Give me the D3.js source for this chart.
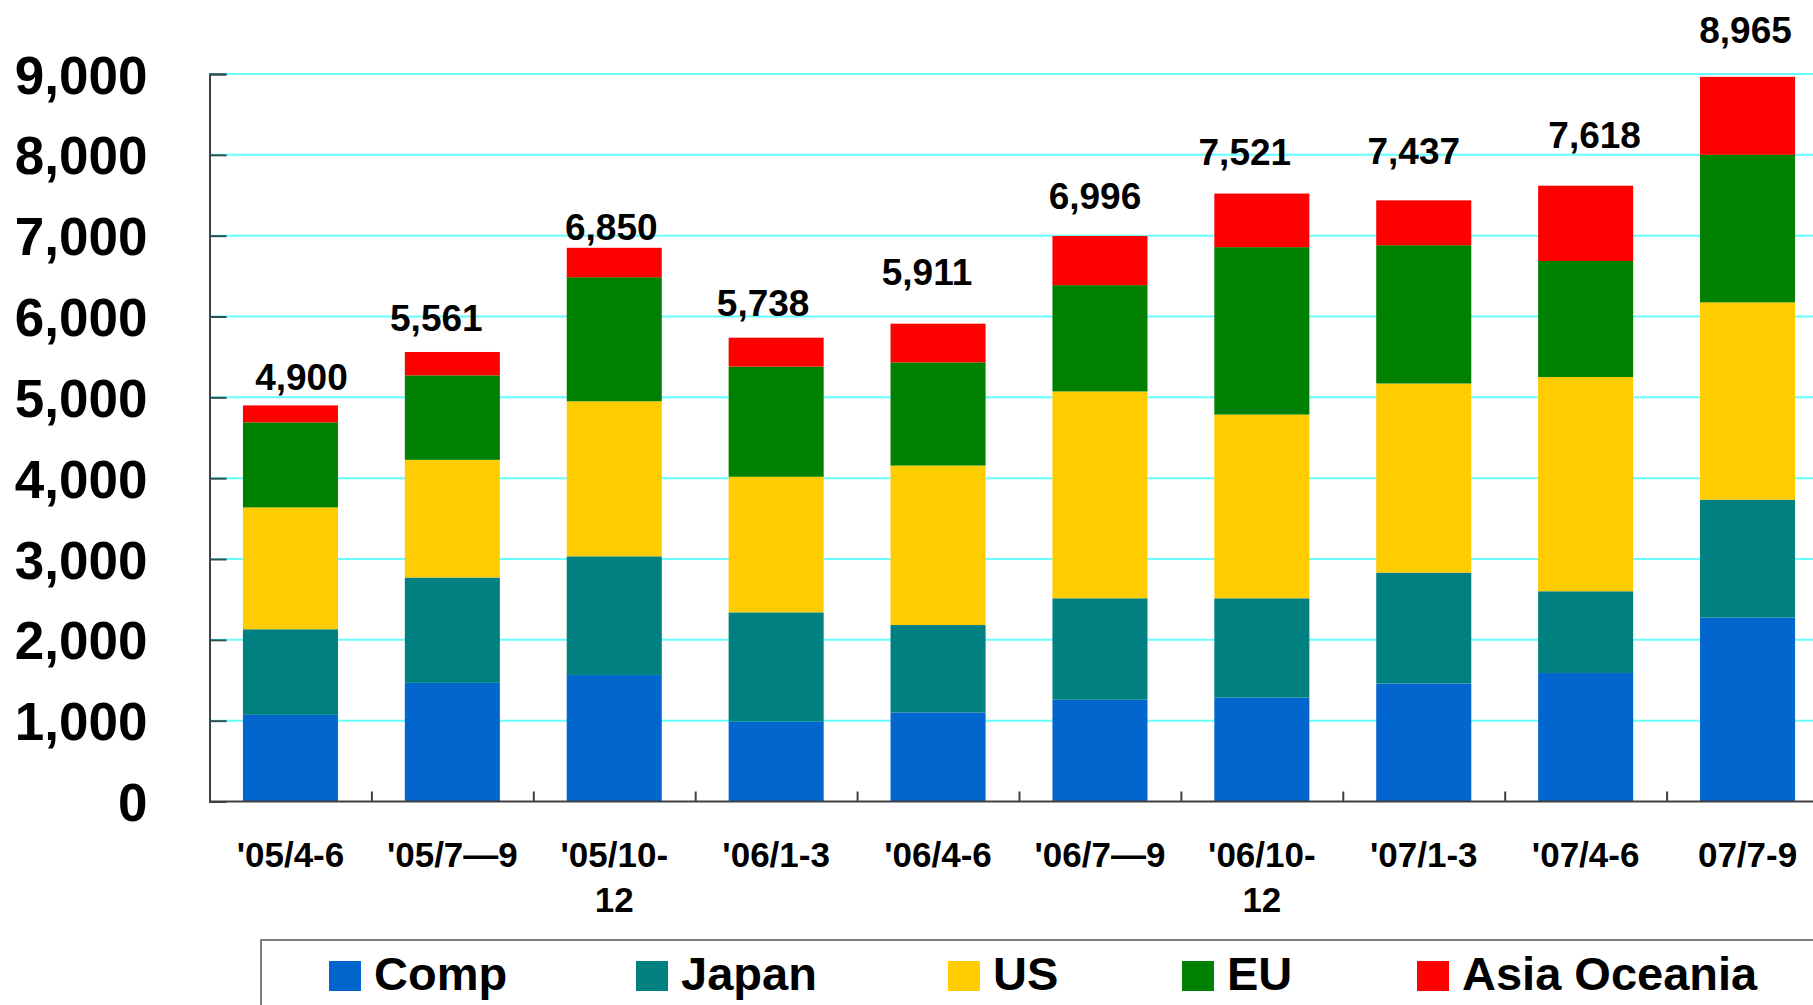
<!DOCTYPE html>
<html>
<head>
<meta charset="utf-8">
<script src="https://cdn.jsdelivr.net/npm/d3@7"></script>
<style>
  body { margin: 0; background: #fff; overflow: hidden; }
  text { font-family: "Liberation Sans", Arial, sans-serif; font-weight: bold; fill: #000; }
</style>
</head>
<body>
<div id="chart"></div>
<script>
// quarters and regional sales
const categories = ["'05/4-6", "'05/7—9", "'05/10-\n12", "'06/1-3", "'06/4-6",
                    "'06/7—9", "'06/10-\n12", "'07/1-3", "'07/4-6", "07/7-9"];
const seriesNames = ["Comp", "Japan", "US", "EU", "Asia Oceania"];
const comp  = [1072, 1468, 1564,  989, 1102, 1259, 1285, 1460, 1590, 2275];
const japan = [1059, 1303, 1469, 1351, 1081, 1255, 1229, 1372, 1011, 1459];
const us    = [1507, 1456, 1918, 1677, 1973, 2559, 2273, 2339, 2650, 2441];
const eu    = [1053, 1045, 1535, 1363, 1277, 1315, 2071, 1711, 1436, 1825];
const asia  = [ 209,  289,  364,  358,  478,  608,  663,  555,  931,  965];
const totals = [4900, 5561, 6850, 5738, 5911, 6996, 7521, 7437, 7618, 8965];
const yTicks = [0, 1000, 2000, 3000, 4000, 5000, 6000, 7000, 8000, 9000];

// layout only: the total labels were placed by hand, [dx, lift above bar top]
const labelNudge = [[11, 28], [-16, 34], [-3, 21], [-13, 35], [-11, 52],
                    [-5, 40], [-17, 42], [-10, 49], [9, 51], [-2, 47]];
const legendX = [329, 636, 948, 1182, 1417];
const colors = ["#0366CE", "#008080", "#FFCC00", "#008000", "#FF0000"];

const width = 1813, height = 1005;
const x0 = 209.5, step = 161.9;

let svg = d3.select("#chart").append("svg")
    .attr("width", width)
    .attr("height", height);

let x = d3.scaleBand()
    .domain(categories)
    .range([x0, x0 + step * categories.length])
    .paddingInner(0.413)
    .paddingOuter(0.2065);

let y = d3.scaleLinear().domain([0, 9000]).range([801.5, 74]);

// stack the series
let table = categories.map((c, i) => ({
    cat: c, Comp: comp[i], Japan: japan[i], US: us[i], EU: eu[i], "Asia Oceania": asia[i]
}));
let stacked = d3.stack().keys(seriesNames)(table);

// gridlines
svg.append("g")
    .selectAll("line")
    .data(yTicks.slice(1))
    .enter().append("line")
    .attr("x1", x0).attr("x2", width)
    .attr("y1", d => y(d)).attr("y2", d => y(d))
    .attr("stroke", "#66FFFF")
    .attr("stroke-width", 2);

// bars
svg.append("g")
    .selectAll("g")
    .data(stacked)
    .enter().append("g")
    .attr("fill", (d, i) => colors[i])
    .selectAll("rect")
    .data(d => d)
    .enter().append("rect")
    .attr("x", d => x(d.data.cat))
    .attr("width", x.bandwidth())
    .attr("y", d => y(d[1]))
    .attr("height", d => y(d[0]) - y(d[1]));

// y axis, ticks pointing inside
let yAxis = svg.append("g")
    .attr("transform", "translate(" + x0 + ",0)")
    .call(d3.axisLeft(y).tickValues(yTicks).tickSize(-17).tickPadding(62)
        .tickFormat(d3.format(",")));
yAxis.select(".domain").attr("stroke", "#404040").attr("stroke-width", 2);
yAxis.selectAll(".tick line").attr("stroke", "#2f4f4f").attr("stroke-width", 2);
yAxis.selectAll(".tick text")
    .style("font-size", "53px")
    .attr("dy", "0.36em");

// x axis: labels under bars, tick marks between categories
let xAxis = svg.append("g")
    .attr("transform", "translate(0," + y(0) + ")")
    .call(d3.axisBottom(x).tickSize(0).tickPadding(0));
xAxis.select(".domain").remove();
xAxis.selectAll(".tick text")
    .style("font-size", "35px")
    .attr("y", 65)
    .attr("dy", null)
    .text(null)
    .each(function(d) {
        let t = d3.select(this);
        d.split("\n").forEach((part, k) => {
            t.append("tspan").attr("x", 0).attr("dy", k === 0 ? 0 : 45).text(part);
        });
    });

let xb = d3.scaleLinear().domain([0, categories.length]).range([x0, x0 + step * categories.length]);
let xTicks = svg.append("g")
    .attr("transform", "translate(0," + y(0) + ")")
    .call(d3.axisBottom(xb).tickValues(categories.map((c, i) => i + 1)).tickSize(-10).tickFormat(""));
xTicks.select(".domain").attr("stroke", "#404040").attr("stroke-width", 2)
    .attr("d", "M" + x0 + ",0H" + width);
xTicks.selectAll(".tick line").attr("stroke", "#404040").attr("stroke-width", 2);

// total labels
svg.append("g")
    .selectAll("text")
    .data(totals)
    .enter().append("text")
    .attr("text-anchor", "middle")
    .attr("x", (d, i) => x(categories[i]) + x.bandwidth() / 2 + labelNudge[i][0])
    .attr("y", (d, i) => y(d) - labelNudge[i][1] + 13)
    .style("font-size", "37px")
    .text(d => d3.format(",")(d));

// legend box
let legend = svg.append("g");
legend.append("rect")
    .attr("x", 261).attr("y", 940)
    .attr("width", 1700).attr("height", 200)
    .attr("fill", "none")
    .attr("stroke", "#808080")
    .attr("stroke-width", 2);

let item = legend.selectAll("g.item")
    .data(seriesNames)
    .enter().append("g")
    .attr("class", "item")
    .attr("transform", (d, i) => "translate(" + legendX[i] + ",961)");
item.append("rect")
    .attr("width", 32).attr("height", 30)
    .attr("fill", (d, i) => colors[i]);
item.append("text")
    .attr("x", 45).attr("y", 29)
    .style("font-size", "47px")
    .text(d => d);
</script>
</body>
</html>
